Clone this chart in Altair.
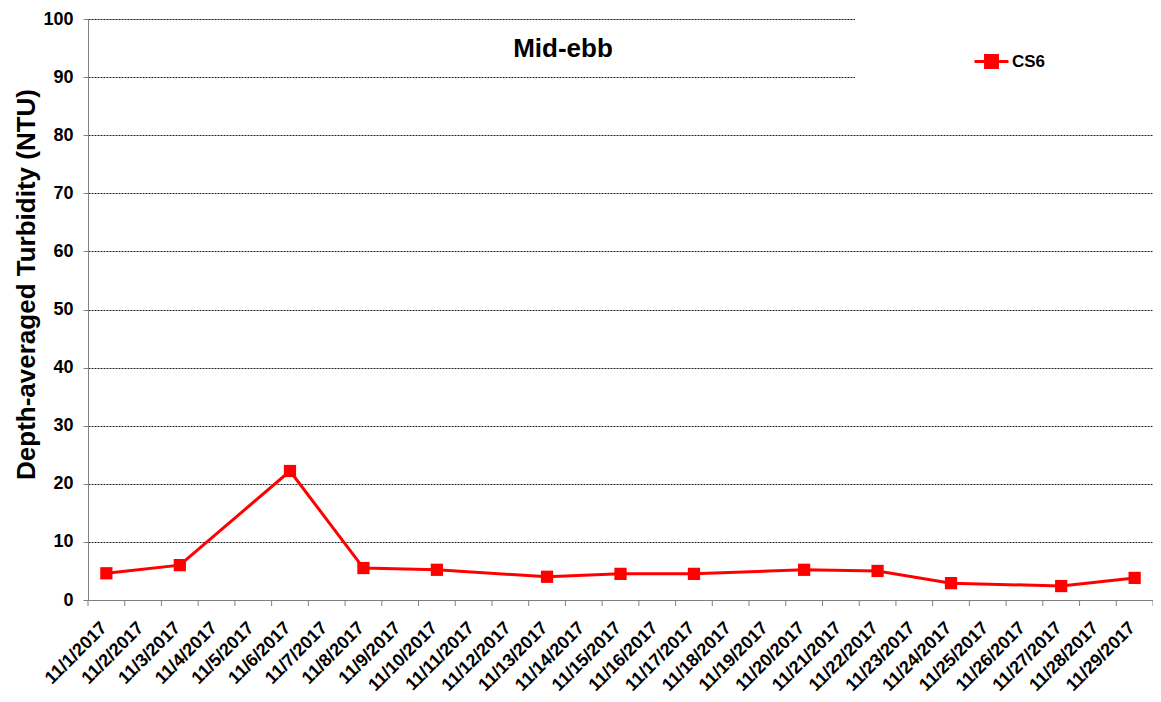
import altair as alt
import pandas as pd

all_dates = ["11/1/2017", "11/2/2017", "11/3/2017", "11/4/2017", "11/5/2017",
             "11/6/2017", "11/7/2017", "11/8/2017", "11/9/2017", "11/10/2017",
             "11/11/2017", "11/12/2017", "11/13/2017", "11/14/2017", "11/15/2017",
             "11/16/2017", "11/17/2017", "11/18/2017", "11/19/2017", "11/20/2017",
             "11/21/2017", "11/22/2017", "11/23/2017", "11/24/2017", "11/25/2017",
             "11/26/2017", "11/27/2017", "11/28/2017", "11/29/2017"]
measured_dates = ["11/1/2017", "11/3/2017", "11/6/2017", "11/8/2017", "11/10/2017",
                  "11/13/2017", "11/15/2017", "11/17/2017", "11/20/2017", "11/22/2017",
                  "11/24/2017", "11/27/2017", "11/29/2017"]
turbidity = [4.6, 6.0, 22.2, 5.5, 5.2, 4.0, 4.5, 4.5, 5.2, 5.0, 2.9, 2.4, 3.8]
y_ticks = [0, 10, 20, 30, 40, 50, 60, 70, 80, 90, 100]
series_name = "CS6"

W, H = 1065, 581
FONT = "Liberation Sans"
RED = "#FF0000"

df = pd.DataFrame({"date": measured_dates, "value": turbidity, "series": series_name})
ticks_df = pd.DataFrame({"date": all_dates})

xscale = alt.Scale(type="band", domain=all_dates, paddingInner=0, paddingOuter=0)
yscale = alt.Scale(domain=[0, 100], nice=False)

x_axis = alt.Axis(title=None, labelAngle=-45, labelAlign="right", labelBaseline="middle",
                  labelFont=FONT, labelFontSize=18, labelFontWeight="bold", labelColor="black",
                  labelPadding=25, labelOffset=-2, ticks=False, grid=False,
                  domainColor="#808080", domainWidth=1, labelOverlap=False)
y_axis = alt.Axis(title="Depth-averaged  Turbidity (NTU)", values=y_ticks,
                  titleFont=FONT, titleFontSize=26, titleFontWeight="bold", titleColor="black",
                  titleX=-62, titleY=265, titleAngle=270, titleAlign="center", titleBaseline="middle",
                  labelFont=FONT, labelFontSize=18, labelFontWeight="bold", labelColor="black",
                  labelPadding=10, tickSize=5, tickColor="#808080", domainColor="#808080",
                  grid=True, gridColor="#222222", gridDash=[2, 1], gridWidth=1)

legend = alt.Legend(title=None, orient="none", legendX=885, legendY=24,
                    symbolType="M-1,0H1M-0.35,-0.35H0.35V0.35H-0.35Z",
                    symbolSize=1156, symbolStrokeWidth=3, symbolFillColor=RED,
                    symbolStrokeColor=RED, labelFont=FONT, labelFontSize=17,
                    labelFontWeight="bold", labelColor="black", labelOffset=2, padding=0)

base = alt.Chart(df)

line = base.mark_line(strokeWidth=3, color=RED).encode(
    x=alt.X("date:N", scale=xscale, axis=x_axis, bandPosition=0.5, sort=all_dates),
    y=alt.Y("value:Q", scale=yscale, axis=y_axis),
    color=alt.Color("series:N", scale=alt.Scale(domain=[series_name], range=[RED]), legend=legend),
)
points = base.mark_point(shape="square", filled=True, size=150, opacity=1).encode(
    x=alt.X("date:N", scale=xscale, bandPosition=0.5, sort=all_dates),
    y=alt.Y("value:Q", scale=yscale),
    color=alt.Color("series:N", scale=alt.Scale(domain=[series_name], range=[RED]), legend=None),
)

xticks = alt.Chart(ticks_df).mark_rule(color="#808080", strokeWidth=1).encode(
    x=alt.X("date:N", scale=xscale, bandPosition=0, sort=all_dates),
    y=alt.value(H), y2=alt.value(H + 6),
)
last_tick = alt.Chart(alt.Data(values=[{}])).mark_rule(color="#808080", strokeWidth=1).encode(
    x=alt.value(W), y=alt.value(H), y2=alt.value(H + 6),
)

legend_bg = alt.Chart(alt.Data(values=[{}])).mark_rect(color="white").encode(
    x=alt.value(767), x2=alt.value(W + 10), y=alt.value(-6), y2=alt.value(85),
)

title_txt = alt.Chart(alt.Data(values=[{}])).mark_text(
    text="Mid-ebb", font=FONT, fontSize=26, fontWeight="bold", color="black",
    align="center", baseline="middle",
).encode(x=alt.value(475), y=alt.value(30))

chart = alt.layer(line, legend_bg, points, xticks, last_tick, title_txt).properties(
    width=W, height=H,
    autosize=alt.AutoSizeParams(type="none"),
    padding={"left": 80, "top": 11, "right": 0, "bottom": 100},
).configure_view(stroke=None).configure(background="white")

chart.save("out.html", embed_options={"renderer": "svg", "actions": False})
